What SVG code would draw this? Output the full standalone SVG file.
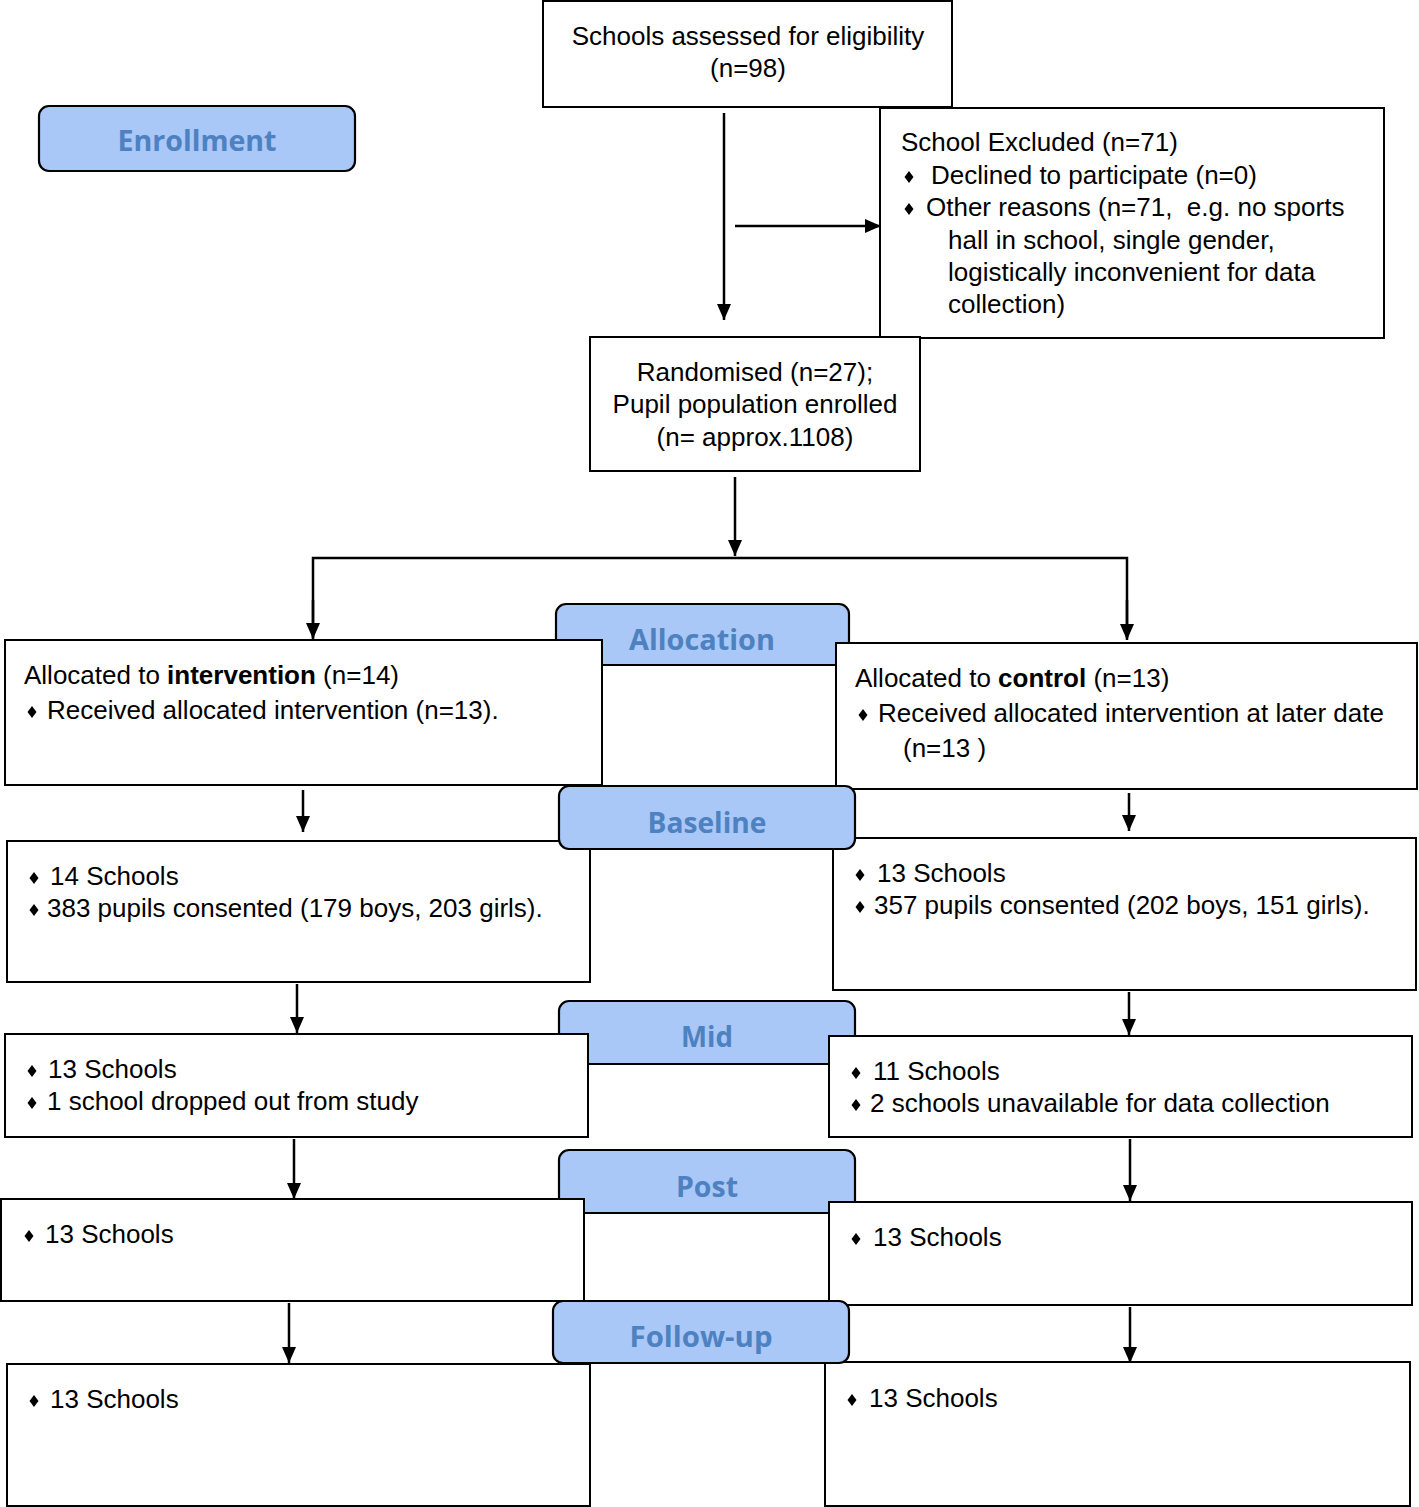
<svg xmlns="http://www.w3.org/2000/svg" width="1419" height="1507" viewBox="0 0 1419 1507">
<style>
.box{fill:#fff;stroke:#000;stroke-width:2}
.lbl{fill:#a9c7f7;stroke:#000;stroke-width:2.2}
.lt{font-family:"Open Sans","DejaVu Sans",sans-serif;font-weight:bold;font-size:29px;fill:#4e81c0;text-anchor:middle}
.t{font-family:"Liberation Sans",Arial,sans-serif;font-size:26px;fill:#000}
.c{text-anchor:middle}
.b{font-weight:bold}
.ln{fill:none;stroke:#000;stroke-width:2.5}
</style>
<defs>
<marker id="ah" markerUnits="userSpaceOnUse" markerWidth="16" markerHeight="16" viewBox="0 0 16 16" refX="16" refY="8" orient="auto">
<path d="M0,1 L16,8 L0,15 Z" fill="#000"/>
</marker>
<path id="dia" d="M0,-6 L4.5,0 L0,6 L-4.5,0 Z" fill="#000"/>
</defs>

<rect width="1419" height="1507" fill="#fff"/>

<g id="label-enrollment">
<rect class="lbl" x="39" y="106" width="316" height="65" rx="10"/>
<text class="lt" x="197" y="151" textLength="159" lengthAdjust="spacingAndGlyphs">Enrollment</text>
</g>
<g id="label-allocation">
<rect class="lbl" x="556" y="604" width="293" height="61" rx="10"/>
<text class="lt" x="702" y="650" textLength="146" lengthAdjust="spacingAndGlyphs">Allocation</text>
</g>
<g id="label-mid">
<rect class="lbl" x="559" y="1001" width="296" height="63" rx="10"/>
<text class="lt" x="707" y="1047" textLength="52" lengthAdjust="spacingAndGlyphs">Mid</text>
</g>
<g id="label-post">
<rect class="lbl" x="559" y="1150" width="296" height="63" rx="10"/>
<text class="lt" x="707" y="1197" textLength="62" lengthAdjust="spacingAndGlyphs">Post</text>
</g>

<g id="connectors">
<line class="ln" x1="724" y1="113" x2="724" y2="320" marker-end="url(#ah)"/>
<line class="ln" x1="735" y1="226" x2="881" y2="226" marker-end="url(#ah)"/>
<line class="ln" x1="735" y1="477" x2="735" y2="556" marker-end="url(#ah)"/>
<polyline class="ln" points="313,638 313,558 1127,558 1127,638"/>
<line class="ln" x1="313" y1="600" x2="313" y2="639" marker-end="url(#ah)"/>
<line class="ln" x1="1127" y1="600" x2="1127" y2="640" marker-end="url(#ah)"/>
<line class="ln" x1="303" y1="790" x2="303" y2="832" marker-end="url(#ah)"/>
<line class="ln" x1="1129" y1="793" x2="1129" y2="831" marker-end="url(#ah)"/>
<line class="ln" x1="297" y1="984" x2="297" y2="1033" marker-end="url(#ah)"/>
<line class="ln" x1="1129" y1="992" x2="1129" y2="1035" marker-end="url(#ah)"/>
<line class="ln" x1="294" y1="1139" x2="294" y2="1199" marker-end="url(#ah)"/>
<line class="ln" x1="1130" y1="1139" x2="1130" y2="1201" marker-end="url(#ah)"/>
<line class="ln" x1="289" y1="1303" x2="289" y2="1363" marker-end="url(#ah)"/>
<line class="ln" x1="1130" y1="1307" x2="1130" y2="1363" marker-end="url(#ah)"/>
</g>

<g id="node-assessed">
<rect class="box" x="543" y="1" width="409" height="106"/>
<text class="t c" x="748" y="45">Schools assessed for eligibility</text>
<text class="t c" x="748" y="77">(n=98)</text>
</g>
<g id="node-excluded">
<rect class="box" x="880" y="108" width="504" height="230"/>
<text class="t" x="901" y="151">School Excluded (n=71)</text>
<use href="#dia" x="909" y="177"/>
<text class="t" x="931" y="184">Declined to participate (n=0)</text>
<use href="#dia" x="909" y="209"/>
<text class="t" x="926" y="216">Other reasons (n=71, &#160;e.g. no sports</text>
<text class="t" x="948" y="249">hall in school, single gender,</text>
<text class="t" x="948" y="281">logistically inconvenient for data</text>
<text class="t" x="948" y="313">collection)</text>
</g>
<g id="node-randomised">
<rect class="box" x="590" y="337" width="330" height="134"/>
<text class="t c" x="755" y="381">Randomised (n=27);</text>
<text class="t c" x="755" y="413">Pupil population enrolled</text>
<text class="t c" x="755" y="446">(n= approx.1108)</text>
</g>
<g id="node-alloc-intervention">
<rect class="box" x="5" y="640" width="597" height="145"/>
<text class="t" x="24" y="684">Allocated to <tspan class="b">intervention</tspan> (n=14)</text>
<use href="#dia" x="32" y="712"/>
<text class="t" x="47" y="719">Received allocated intervention (n=13).</text>
</g>
<g id="node-alloc-control">
<rect class="box" x="836" y="643" width="581" height="146"/>
<text class="t" x="855" y="687">Allocated to <tspan class="b">control</tspan> (n=13)</text>
<use href="#dia" x="863" y="715"/>
<text class="t" x="878" y="722">Received allocated intervention at later date</text>
<text class="t" x="903" y="757">(n=13 )</text>
</g>
<g id="node-baseline-intervention">
<rect class="box" x="7" y="841" width="583" height="141"/>
<use href="#dia" x="34" y="878"/>
<text class="t" x="50" y="885">14 Schools</text>
<use href="#dia" x="34" y="910"/>
<text class="t" x="47" y="917">383 pupils consented (179 boys, 203 girls).</text>
</g>
<g id="node-baseline-control">
<rect class="box" x="833" y="838" width="583" height="152"/>
<use href="#dia" x="860" y="875"/>
<text class="t" x="877" y="882">13 Schools</text>
<use href="#dia" x="860" y="907"/>
<text class="t" x="874" y="914">357 pupils consented (202 boys, 151 girls).</text>
</g>
<g id="label-baseline">
<rect class="lbl" x="559" y="786" width="296" height="63" rx="10"/>
<text class="lt" x="707" y="833" textLength="119" lengthAdjust="spacingAndGlyphs">Baseline</text>
</g>
<g id="node-mid-intervention">
<rect class="box" x="5" y="1034" width="583" height="103"/>
<use href="#dia" x="32" y="1071"/>
<text class="t" x="48" y="1078">13 Schools</text>
<use href="#dia" x="32" y="1103"/>
<text class="t" x="47" y="1110">1 school dropped out from study</text>
</g>
<g id="node-mid-control">
<rect class="box" x="829" y="1036" width="583" height="101"/>
<use href="#dia" x="856" y="1073"/>
<text class="t" x="873" y="1080">11 Schools</text>
<use href="#dia" x="856" y="1105"/>
<text class="t" x="870" y="1112">2 schools unavailable for data collection</text>
</g>
<g id="node-post-intervention">
<rect class="box" x="1" y="1199" width="583" height="102"/>
<use href="#dia" x="29" y="1236"/>
<text class="t" x="45" y="1243">13 Schools</text>
</g>
<g id="node-post-control">
<rect class="box" x="829" y="1202" width="583" height="103"/>
<use href="#dia" x="856" y="1239"/>
<text class="t" x="873" y="1246">13 Schools</text>
</g>
<g id="node-followup-intervention">
<rect class="box" x="7" y="1364" width="583" height="142"/>
<use href="#dia" x="34" y="1401"/>
<text class="t" x="50" y="1408">13 Schools</text>
</g>
<g id="node-followup-control">
<rect class="box" x="825" y="1362" width="585" height="144"/>
<use href="#dia" x="852" y="1400"/>
<text class="t" x="869" y="1407">13 Schools</text>
</g>
<g id="label-followup">
<rect class="lbl" x="553" y="1301" width="296" height="62" rx="10"/>
<text class="lt" x="701" y="1347" textLength="143" lengthAdjust="spacingAndGlyphs">Follow-up</text>
</g>
</svg>
